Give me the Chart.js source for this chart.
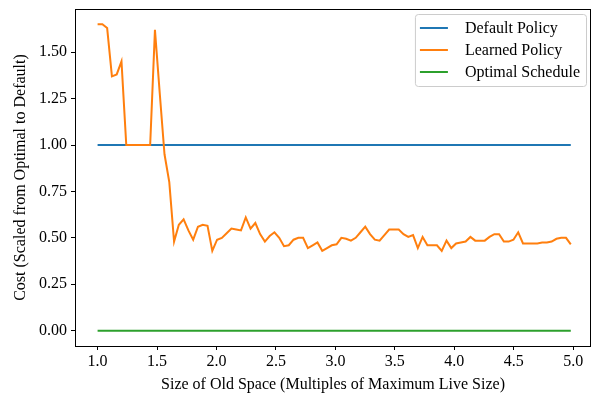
<!DOCTYPE html>
<html>
<head>
<meta charset="utf-8">
<script src="https://cdn.jsdelivr.net/npm/chart.js@4/dist/chart.umd.min.js"></script>
<style>
body { margin: 0; background: #fff; }
#wrap { width: 592px; height: 394px; }
</style>
</head>
<body>
<div id="wrap"><canvas id="myChart"></canvas></div>
<script>
// old space size runs 1.0 .. 4.98 in 100 even steps
const xStart = 1.0;
const xEnd = 4.98;

// cost of learned policy, scaled so optimal = 0 and default = 1
const learnedCost = [
    1.65, 1.65, 1.63, 1.37, 1.38, 1.45, 1.00, 1.00, 1.00, 1.00,
    1.00, 1.00, 1.62, 1.28, 0.95, 0.80, 0.48, 0.57, 0.60, 0.54,
    0.49, 0.56, 0.57, 0.565, 0.43, 0.49, 0.50, 0.525, 0.55, 0.545,
    0.54, 0.61, 0.55, 0.58, 0.52, 0.48, 0.51, 0.53, 0.50, 0.455,
    0.46, 0.49, 0.50, 0.50, 0.445, 0.46, 0.475, 0.43, 0.445, 0.46,
    0.465, 0.50, 0.495, 0.485, 0.50, 0.53, 0.56, 0.52, 0.49, 0.485,
    0.515, 0.545, 0.545, 0.545, 0.52, 0.505, 0.515, 0.445, 0.505, 0.46,
    0.46, 0.46, 0.43, 0.485, 0.445, 0.47, 0.475, 0.48, 0.505, 0.485,
    0.485, 0.485, 0.505, 0.52, 0.52, 0.48, 0.48, 0.49, 0.53, 0.47,
    0.47, 0.47, 0.47, 0.475, 0.475, 0.48, 0.495, 0.50, 0.50, 0.465
];
const defaultCost = 1.0;
const optimalCost = 0.0;

const xTicks = [1.0, 1.5, 2.0, 2.5, 3.0, 3.5, 4.0, 4.5, 5.0];
const yTicks = [0.0, 0.25, 0.5, 0.75, 1.0, 1.25, 1.5];

const step = (xEnd - xStart) / (learnedCost.length - 1);
const learnedPoints = learnedCost.map((c, i) => ({ x: xStart + i * step, y: c }));

const FONT = 'Liberation Serif';
const FS = 16;

// frame round the plot + a matplotlib style legend box
const framePlugin = {
    id: 'frame',
    afterDraw(chart) {
        const a = chart.chartArea;
        const ctx = chart.ctx;
        ctx.save();
        ctx.strokeStyle = '#000';
        ctx.lineWidth = 1;
        ctx.strokeRect(a.left + 0.5, a.top + 0.5, a.right - a.left - 1, a.bottom - a.top);

        // legend
        const sets = chart.data.datasets;
        ctx.font = FS + 'px ' + FONT;
        const textW = Math.max(...sets.map(d => ctx.measureText(d.label).width));
        const boxW = 5 + 28 + 17 + textW + 6;
        const rowH = 22;
        const boxH = sets.length * rowH + 6;
        const bx = a.right - 5 - boxW;
        const by = a.top + 5;
        ctx.fillStyle = 'rgba(255,255,255,0.8)';
        ctx.strokeStyle = '#ccc';
        ctx.beginPath();
        ctx.roundRect(bx + 0.5, by + 0.5, boxW, boxH, 3);
        ctx.fill();
        ctx.stroke();
        sets.forEach((d, i) => {
            const y = by + 14 + i * rowH;
            ctx.strokeStyle = d.borderColor;
            ctx.lineWidth = 2;
            ctx.beginPath();
            ctx.moveTo(bx + 5, y);
            ctx.lineTo(bx + 33, y);
            ctx.stroke();
            ctx.fillStyle = '#000';
            ctx.textBaseline = 'middle';
            ctx.fillText(d.label, bx + 50, y + 1);
        });
        ctx.restore();
    }
};

const ctx = document.getElementById('myChart');
const myChart = new Chart(ctx, {
    type: 'line',
    data: {
        datasets: [{
            label: 'Default Policy',
            data: [{ x: xStart, y: defaultCost }, { x: xEnd, y: defaultCost }],
            borderColor: '#1f77b4',
            borderWidth: 2,
            order: 3
        },
        {
            label: 'Learned Policy',
            data: learnedPoints,
            borderColor: '#ff7f0e',
            borderWidth: 2,
            order: 2
        },
        {
            label: 'Optimal Schedule',
            data: [{ x: xStart, y: optimalCost }, { x: xEnd, y: optimalCost }],
            borderColor: '#2ca02c',
            borderWidth: 2,
            order: 1
        }]
    },
    options: {
        responsive: true,
        maintainAspectRatio: false,
        animation: false,
        layout: { padding: { left: 0, right: 1, top: 9, bottom: 0 } },
        elements: {
            point: { radius: 0 },
            line: { tension: 0 }
        },
        plugins: {
            tooltip: { enabled: false },
            legend: { display: false }
        },
        scales: {
            x: {
                type: 'linear',
                min: 0.81,
                max: 5.15,
                afterBuildTicks: s => { s.ticks = xTicks.map(v => ({ value: v })); },
                afterFit: s => { s.height = 48; s.paddingLeft = 0; s.paddingRight = 0; },
                grid: { drawOnChartArea: false, drawTicks: true, tickLength: 4, color: '#000' },
                border: { display: false },
                ticks: {
                    color: '#000',
                    padding: 2,
                    font: { family: FONT, size: FS },
                    callback: v => v.toFixed(1)
                },
                title: {
                    display: true,
                    text: 'Size of Old Space (Multiples of Maximum Live Size)',
                    color: '#000',
                    padding: { top: 0, bottom: 0 },
                    font: { family: FONT, size: FS }
                }
            },
            y: {
                type: 'linear',
                min: -0.0825,
                max: 1.7325,
                afterBuildTicks: s => { s.ticks = yTicks.map(v => ({ value: v })); },
                afterFit: s => { s.width = 75; s.paddingTop = 0; s.paddingBottom = 0; },
                grid: { drawOnChartArea: false, drawTicks: true, tickLength: 4, color: '#000' },
                border: { display: false },
                ticks: {
                    color: '#000',
                    padding: 4,
                    font: { family: FONT, size: FS },
                    callback: v => v.toFixed(2)
                },
                title: {
                    display: true,
                    text: 'Cost (Scaled from Optimal to Default)',
                    color: '#000',
                    padding: { top: 11, bottom: 0 },
                    font: { family: FONT, size: FS }
                }
            }
        }
    },
    plugins: [framePlugin]
});
</script>
</body>
</html>
